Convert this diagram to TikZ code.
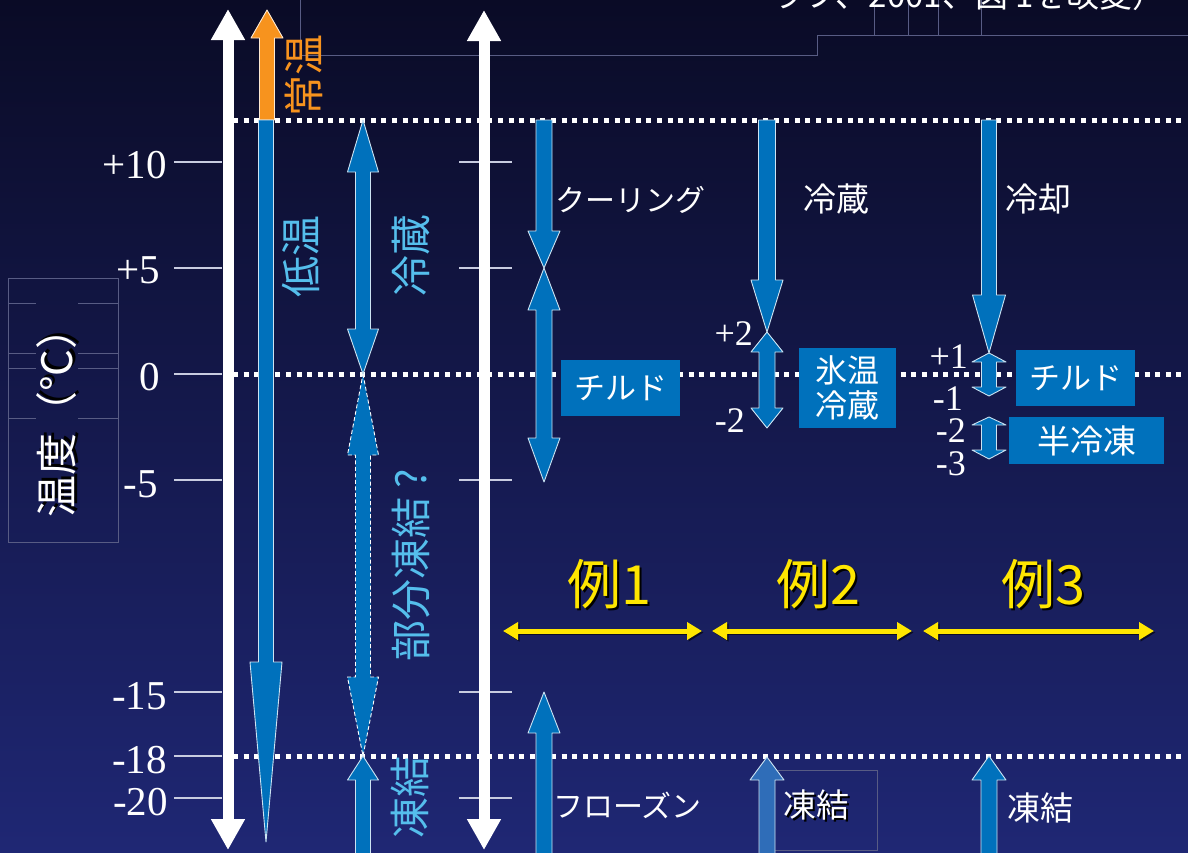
\documentclass[tikz,border=0pt]{standalone}
\usepackage{fontspec}
\setmainfont{Liberation Serif}
\newfontfamily\jp{Noto Sans CJK JP}
\usetikzlibrary{arrows.meta}
\definecolor{bgtop}{HTML}{0A0B26}
\definecolor{bgmid}{HTML}{0B1250}
\definecolor{bgbot}{HTML}{1F2774}
\definecolor{ablue}{HTML}{0071BC}
\definecolor{ablue2}{HTML}{2F6DB8}
\definecolor{lblue}{HTML}{55BEEC}
\definecolor{aorange}{HTML}{F7931E}
\definecolor{ayellow}{HTML}{FFE600}
\definecolor{guide}{HTML}{585C84}
\definecolor{tickc}{HTML}{C8CCE0}
\newcommand{\blkarrow}[7]{%
 \draw[#1] ({#2-#6},#3) -- ({#2-#6},#4) -- ({#2-#7},#4) -- (#2,#5) -- ({#2+#7},#4) -- ({#2+#6},#4) -- ({#2+#6},#3) -- cycle;}
\newcommand{\blkdarrow}[8]{%
 \draw[#1] (#2,#3) -- ({#2+#8},#4) -- ({#2+#7},#4) -- ({#2+#7},#5) -- ({#2+#8},#5) -- (#2,#6) -- ({#2-#8},#5) -- ({#2-#7},#5) -- ({#2-#7},#4) -- ({#2-#8},#4) -- cycle;}
\newcommand{\shadowed}[2]{\makebox[0pt][l]{\raisebox{-#1}{\kern#1\textcolor{black}{#2}}}#2}
\tikzset{
 bluearr/.style={fill=ablue, draw=white!80!ablue, line width=0.9pt, line join=round},
 orangearr/.style={fill=aorange, draw=white!80!aorange, line width=0.9pt, line join=round},
 dasharr/.style={fill=ablue, draw=white, line width=0.9pt, dash pattern=on 4pt off 2.5pt, line join=round},
 dotline/.style={white, line width=5pt, dash pattern=on 5pt off 5.6pt},
 tickline/.style={tickc, line width=1.2pt},
 guideline/.style={guide, line width=1pt},
 num/.style={font=\fontsize{41}{41}\selectfont, text=white, inner sep=0pt},
 snum/.style={font=\fontsize{36}{36}\selectfont, text=white, inner sep=0pt},
 vlab/.style={rotate=90, font=\jp\fontsize{41}{41}\selectfont, text=lblue, inner sep=0pt},
 hlab/.style={font=\jp\fontsize{30}{30}\selectfont, text=white, inner sep=0pt, anchor=west},
 klab/.style={font=\jp\fontsize{33}{33}\selectfont, text=white, inner sep=0pt, anchor=west},
 box/.style={fill=ablue, text=white, font=\jp\fontsize{31}{31}\selectfont, inner sep=0pt},
 ylab/.style={font=\jp\fontsize{54}{54}\selectfont, text=ayellow, inner sep=0pt},
 whitearr/.style={white, line width=11pt, {Triangle[length=31pt,width=32pt]}-{Triangle[length=31pt,width=32pt]}},
 yellowarr/.style={ayellow, line width=5pt, {Triangle[length=15pt,width=17pt]}-{Triangle[length=15pt,width=17pt]}},
 yellowshadow/.style={black, opacity=0.6, line width=5pt, {Triangle[length=15pt,width=17pt]}-{Triangle[length=15pt,width=17pt]}}
}
\begin{document}
\begin{tikzpicture}[x=1pt,y=-1pt]
\useasboundingbox (0,0) rectangle (1188,852);
\clip (0,0) rectangle (1188,852);
\shade[top color=bgtop, middle color=bgmid, bottom color=bgbot] (0,0) rectangle (1188,852);

% faint guide lines
\draw[guideline] (300,0) -- (300,55) -- (817,55) -- (817,35) -- (1188,35);
\foreach \gx in {874,908,938,981} \draw[guideline] (\gx,0) -- (\gx,35);
\draw[guideline] (8,278) rectangle (118,542);
\foreach \gy in {303,353,368,418} {\draw[guideline] (8,\gy) -- (36,\gy); \draw[guideline] (78,\gy) -- (118,\gy);}
\draw[guideline] (774,770) rectangle (877,850);

% clipped citation at the top
\node[font=\jp\fontsize{33}{33}\selectfont, text=white, inner sep=0pt, anchor=base east] (cite) at (1166,7) {ラフ、2001、図 1を改変）};

% dotted temperature lines
\coordinate (d12a) at (233,120); \coordinate (d12b) at (1186,120);
\coordinate (d0a) at (233,374); \coordinate (d0b) at (1186,374);
\coordinate (d18a) at (233,756); \coordinate (d18b) at (1186,756);
\draw[dotline] (d12a) -- (d12b);
\draw[dotline] (d0a) -- (d0b);
\draw[dotline] (d18a) -- (d18b);

% ticks
\foreach \ty in {162,268,374,480,692,756,798} \draw[tickline] (174,\ty) -- (222,\ty);
\foreach \ty in {162,268,480,692,798} \draw[tickline] (459,\ty) -- (512,\ty);

% white axis arrows
\coordinate (w1b) at (228,850); \coordinate (w1t) at (228,9);
\coordinate (w2b) at (484,850); \coordinate (w2t) at (484,10);
\draw[whitearr] (w1b) -- (w1t);
\draw[whitearr] (w2b) -- (w2t);

% left column arrows
\blkarrow{orangearr}{267}{120}{38}{10}{7.5}{16}
\blkarrow{bluearr}{266}{120}{662}{842}{7.5}{16}
\blkdarrow{bluearr}{363}{120}{172}{329}{374}{7.5}{15.5}
\blkdarrow{dasharr}{363}{374}{455}{677}{756}{7.5}{15.5}
\blkarrow{bluearr}{363}{870}{780}{756}{7.5}{15.5}

% example 1
\blkarrow{bluearr}{544}{120}{231}{268}{8}{16}
\blkdarrow{bluearr}{544}{268}{310}{438}{482}{8}{16}
\blkarrow{bluearr}{544}{870}{733}{692}{8}{16}

% example 2
\blkarrow{bluearr}{767}{120}{280}{332}{8.5}{16}
\blkdarrow{bluearr}{767}{332}{352}{408}{428}{8}{16}
\blkarrow{bluearr,fill=ablue2}{767}{870}{780}{757}{8}{17}

% example 3
\blkarrow{bluearr}{989}{120}{295}{353}{7.5}{16.5}
\blkdarrow{bluearr}{989}{353}{362}{387}{396}{7.5}{17}
\blkdarrow{bluearr}{989}{417}{425}{450}{459}{7.5}{17}
\blkarrow{bluearr}{989}{870}{780}{756}{8}{17}

% axis numbers
\node[num, anchor=base east] (n10) at (167,178) {+10};
\node[num, anchor=base east] (n5) at (160,283) {+5};
\node[num, anchor=base east] (n0) at (160,390) {0};
\node[num, anchor=base east] (nm5) at (158,497) {-5};
\node[num, anchor=base east] (nm15) at (167,709) {-15};
\node[num, anchor=base east] (nm18) at (167,773) {-18};
\node[num, anchor=base east] (nm20) at (168,815) {-20};
\node[snum, anchor=base east] (e2p2) at (753,345) {+2};
\node[snum, anchor=base east] (e2m2) at (745,432) {-2};
\node[snum, anchor=base east] (e3p1) at (968,368) {+1};
\node[snum, anchor=base east] (e3m1) at (963,410) {-1};
\node[snum, anchor=base east] (e3m2) at (966,442) {-2};
\node[snum, anchor=base east] (e3m3) at (966,475) {-3};

% axis title
\node[rotate=90, font=\jp\fontsize{42}{42}\selectfont, text=white, inner sep=0pt] (tit) at (58,412) {\shadowed{3pt}{温度（℃）}};

% vertical labels
\node[vlab, text=aorange] (jouon) at (304,75) {常温};
\node[vlab] (teion) at (301,256) {低温};
\node[vlab] (reizo) at (411,255) {冷蔵};
\node[vlab] (bubun) at (411,565) {部分凍結 ?};
\node[vlab] (touketsu) at (410,797) {凍結};

% horizontal labels
\node[hlab] (cool) at (555,200) {クーリング};
\node[klab] (reizo2) at (803,199) {冷蔵};
\node[klab] (reikyaku) at (1005,199) {冷却};
\node[hlab] (frozen) at (553,805) {フローズン};
\node[klab] (tk2) at (783,806) {\shadowed{2pt}{凍結}};
\node[klab] (tk3) at (1007,808) {凍結};

% boxes
\node[box, minimum width=119pt, minimum height=56pt] (chilled1) at (620.5,388) {チルド};
\node[box, minimum width=97pt, minimum height=80pt, align=center, font=\jp\fontsize{32}{35}\selectfont] (hyoon) at (847.5,388) {氷温\\冷蔵};
\node[box, minimum width=119pt, minimum height=56pt] (chilled3) at (1075.5,378) {チルド};
\node[box, minimum width=155pt, minimum height=47pt, font=\jp\fontsize{33}{33}\selectfont] (hanreito) at (1086.5,440.5) {半冷凍};

% examples
\node[ylab] (ex1) at (609,585) {\shadowed{2.5pt}{例1}};
\node[ylab] (ex2) at (818,585) {\shadowed{2.5pt}{例2}};
\node[ylab] (ex3) at (1043,585) {\shadowed{2.5pt}{例3}};
\coordinate (y1a) at (503,631); \coordinate (y1b) at (702,631);
\coordinate (y2a) at (712,631); \coordinate (y2b) at (912,631);
\coordinate (y3a) at (923,631); \coordinate (y3b) at (1154,631);
\draw[yellowshadow] ([shift={(1.5,1.5)}]y1a) -- ([shift={(1.5,1.5)}]y1b);
\draw[yellowshadow] ([shift={(1.5,1.5)}]y2a) -- ([shift={(1.5,1.5)}]y2b);
\draw[yellowshadow] ([shift={(1.5,1.5)}]y3a) -- ([shift={(1.5,1.5)}]y3b);
\draw[yellowarr] (y1a) -- (y1b);
\draw[yellowarr] (y2a) -- (y2b);
\draw[yellowarr] (y3a) -- (y3b);
\end{tikzpicture}
\end{document}
